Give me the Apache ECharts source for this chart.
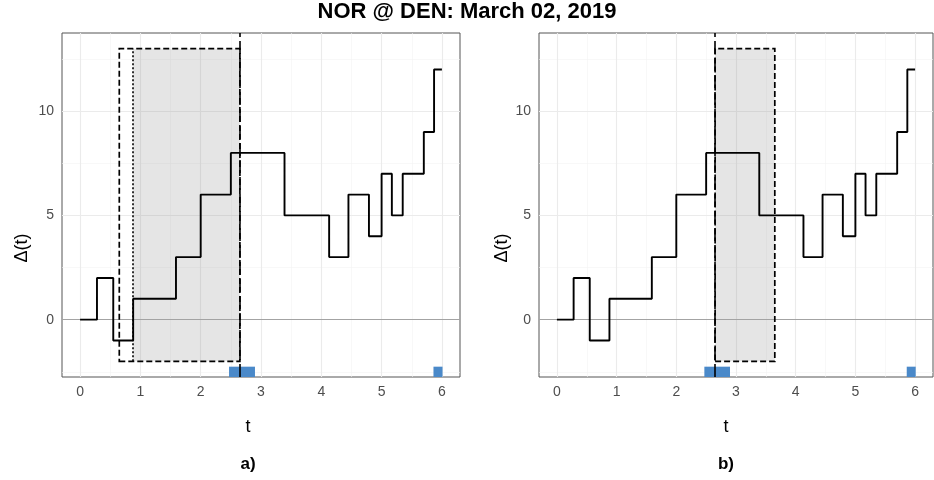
<!DOCTYPE html>
<html><head><meta charset="utf-8">
<script src="https://cdn.jsdelivr.net/npm/echarts@6/dist/echarts.min.js"></script>
<style>html,body{margin:0;padding:0;background:#fff}#c{width:934px;height:480px}</style>
</head><body><div id="c"></div>
<script>
// ---- data ----
const stepTimes  = [0, 0.28, 0.55, 0.88, 1.59, 2.0, 2.5, 3.39, 4.13, 4.45, 4.79, 5.0, 5.17, 5.35, 5.7, 5.87, 6.0];
const stepValues = [0, 2, -1, 1, 3, 6, 8, 5, 3, 6, 4, 7, 5, 7, 9, 12, 12];
const xTicks = [0, 1, 2, 3, 4, 5, 6];
const xMinor = [0.5, 1.5, 2.5, 3.5, 4.5, 5.5];
const yTicks = [0, 5, 10];
const yMinor = [-2.5, 2.5, 7.5, 12.5];
const eventTime = 2.65;
const rugStart = [2.47, 5.86];
const rugEnd   = [2.90, 6.01];
const leftWindowOuter = [0.65, 2.65];
const leftWindowInner = [0.88, 2.65];
const rightWindow = [2.65, 3.65];
const windowLow = -2, windowHigh = 13;
const titleText = 'NOR @ DEN: March 02, 2019';
const panelLabels = ['a)', 'b)'];

// ---- layout ----
const FONT = '"Liberation Sans", Arial, sans-serif';
const xMin = -0.3, xMax = 6.3, yMin = -2.75, yMax = 13.75;
const rugTop = yMin + 0.03 * (yMax - yMin);
const grids = [
  {left: 62, top: 33, width: 398, height: 344},
  {left: 539, top: 33, width: 394, height: 344}
];
const titleX = [248, 726];
const yTitleX = [22, 502];

const chart = echarts.init(document.getElementById('c'), null, {renderer: 'canvas'});
const xAxes = [], yAxes = [], series = [];
const stepData = stepTimes.map((t, j) => [t, stepValues[j]]);
const noLab = {show: false};
const noSym = ['none', 'none'];

grids.forEach((g, i) => {
  xAxes.push({
    type: 'value', gridIndex: i, min: xMin, max: xMax,
    axisLine: {show: false},
    axisTick: {show: true, customValues: xTicks, length: 4, lineStyle: {color: '#333', width: 1}},
    axisLabel: {customValues: xTicks, color: '#4d4d4d', fontSize: 14, fontFamily: FONT, margin: 8},
    splitLine: {show: false}
  });
  yAxes.push({
    type: 'value', gridIndex: i, min: yMin, max: yMax,
    axisLine: {show: false},
    axisTick: {show: true, customValues: yTicks, length: 4, lineStyle: {color: '#333', width: 1}},
    axisLabel: {customValues: yTicks, color: '#4d4d4d', fontSize: 14, fontFamily: FONT, margin: 8},
    splitLine: {show: false}
  });
  const minorStyle = {color: '#f3f3f3', width: 0.6, type: 'solid'};
  const majorStyle = {color: '#ebebeb', width: 1.1, type: 'solid'};
  const gl = [];
  xMinor.forEach(v => gl.push({xAxis: v, lineStyle: minorStyle}));
  yMinor.forEach(v => gl.push({yAxis: v, lineStyle: minorStyle}));
  xTicks.forEach(v => gl.push({xAxis: v, lineStyle: majorStyle}));
  yTicks.forEach(v => gl.push({yAxis: v, lineStyle: majorStyle}));
  const base = {type: 'line', xAxisIndex: i, yAxisIndex: i, data: [], symbol: 'none', animation: false, silent: true};

  // grid lines
  series.push(Object.assign({}, base, {z: 1, markLine: {z: 1, silent: true, symbol: noSym, label: noLab, animation: false, data: gl}}));

  // window fill
  const win = i === 0 ? leftWindowInner : rightWindow;
  series.push(Object.assign({}, base, {z: 2, markArea: {z: 2, silent: true, animation: false,
    itemStyle: {color: 'rgba(127,127,127,0.2)', borderWidth: 0},
    data: [[{xAxis: win[0], yAxis: windowLow}, {xAxis: win[1], yAxis: windowHigh}]]}}));

  // zero line
  series.push(Object.assign({}, base, {z: 3, markLine: {z: 3, silent: true, symbol: noSym, label: noLab, animation: false,
    data: [{yAxis: 0, lineStyle: {color: '#a3a3a3', width: 1.1, type: 'solid'}}]}}));

  // step line
  series.push({type: 'line', xAxisIndex: i, yAxisIndex: i, z: 4, step: 'end', data: stepData, symbol: 'none',
    animation: false, silent: true, lineStyle: {color: '#000', width: 1.9}});

  // window borders
  const borderWin = i === 0 ? leftWindowOuter : rightWindow;
  const bSeries = Object.assign({}, base, {z: 5, markArea: {z: 5, silent: true, animation: false,
    itemStyle: {color: 'rgba(0,0,0,0)', borderColor: '#000', borderWidth: 1.7, borderType: [6, 3]},
    data: [[{xAxis: borderWin[0], yAxis: windowLow}, {xAxis: borderWin[1], yAxis: windowHigh}]]}});
  if (i === 0) {
    bSeries.markLine = {z: 5, silent: true, symbol: noSym, label: noLab, animation: false,
      data: [[{coord: [leftWindowInner[0], windowLow], lineStyle: {color: '#000', width: 1.6, type: [2, 2]}},
              {coord: [leftWindowInner[0], windowHigh]}]]};
  }
  series.push(bSeries);

  // rug
  series.push(Object.assign({}, base, {z: 6, markArea: {z: 6, silent: true, animation: false,
    itemStyle: {color: '#4a89c9', borderWidth: 0},
    data: rugStart.map((s, k) => [{xAxis: s, yAxis: yMin}, {xAxis: rugEnd[k], yAxis: rugTop}])}}));

  // event vline
  series.push(Object.assign({}, base, {z: 7, markLine: {z: 7, silent: true, symbol: noSym, label: noLab, animation: false,
    data: [{xAxis: eventTime, lineStyle: {color: '#000', width: 1.6, type: [13, 4]}}]}}));
});

const graphic = [
  {type: 'text', x: 467, y: 12, style: {text: titleText, font: 'bold 22px ' + FONT, fill: '#000', align: 'center', verticalAlign: 'middle'}}
];
grids.forEach((g, i) => {
  graphic.push({type: 'text', x: titleX[i], y: 427, style: {text: 't', font: '18px ' + FONT, fill: '#000', align: 'center', verticalAlign: 'middle'}});
  graphic.push({type: 'text', x: titleX[i], y: 464, style: {text: panelLabels[i], font: 'bold 17px ' + FONT, fill: '#000', align: 'center', verticalAlign: 'middle'}});
  graphic.push({type: 'text', x: yTitleX[i], y: 248, rotation: Math.PI / 2, style: {text: 'Δ(t)', font: '18px ' + FONT, fill: '#000', align: 'center', verticalAlign: 'middle'}});
});

chart.setOption({
  animation: false,
  backgroundColor: '#fff',
  grid: grids.map(g => Object.assign({show: true, borderColor: '#555', borderWidth: 1, backgroundColor: 'transparent', containLabel: false}, g)),
  xAxis: xAxes, yAxis: yAxes, series: series, graphic: graphic
});
</script></body></html>
